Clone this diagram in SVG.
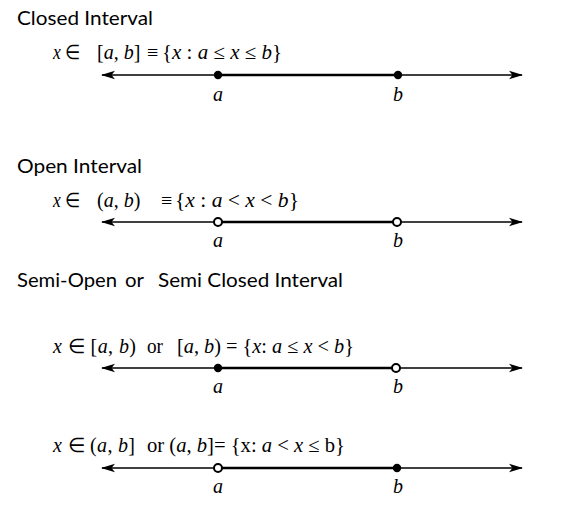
<svg xmlns="http://www.w3.org/2000/svg" width="584" height="529" viewBox="0 0 584 529">
<style>
.title{font-family:Lato,"Liberation Sans",sans-serif;font-size:19px;fill:#000}
.m{font-family:"Liberation Serif",serif;font-size:20px;fill:#000}
.i{font-style:italic}
.lbl{font-family:"Liberation Serif",serif;font-size:20px;font-style:italic;text-anchor:middle;fill:#000}
.axis{stroke:#000;stroke-width:1.3;fill:none;marker-start:url(#arr);marker-end:url(#arr)}
.seg{stroke:#000;stroke-width:2.3;fill:none}
.closed{fill:#000}
.open{fill:#fff;stroke:#000;stroke-width:2}
</style>
<defs>
<marker id="arr" viewBox="0 0 14 10" refX="13" refY="5" markerWidth="14" markerHeight="10" markerUnits="userSpaceOnUse" orient="auto-start-reverse">
<path d="M0,0.8 L14,5 L0,9.2 L3.5,5 Z" fill="#000"/>
</marker>
</defs>
<rect width="584" height="529" fill="#fff"/>

<g id="closed">
<text class="title" x="17" y="25" textLength="136" lengthAdjust="spacingAndGlyphs">Closed Interval</text>
<text class="m" x="53" y="59" textLength="27" lengthAdjust="spacingAndGlyphs"><tspan class="i">x</tspan> ∈</text>
<text class="m" x="97" y="59">[<tspan class="i">a</tspan>, <tspan class="i">b</tspan>]</text>
<text class="m" x="147" y="59">≡</text>
<text class="m" x="162" y="59" textLength="120" lengthAdjust="spacingAndGlyphs">{<tspan class="i">x</tspan> : <tspan class="i">a</tspan> ≤ <tspan class="i">x</tspan> ≤ <tspan class="i">b</tspan>}</text>
</g>

<g id="open">
<text class="title" x="17" y="173" textLength="125" lengthAdjust="spacingAndGlyphs">Open Interval</text>
<text class="m" x="53" y="207" textLength="27" lengthAdjust="spacingAndGlyphs"><tspan class="i">x</tspan> ∈</text>
<text class="m" x="97" y="207">(<tspan class="i">a</tspan>, <tspan class="i">b</tspan>)</text>
<text class="m" x="161" y="207">≡</text>
<text class="m" x="175" y="207" textLength="124" lengthAdjust="spacingAndGlyphs">{<tspan class="i">x</tspan> : <tspan class="i">a</tspan> &lt; <tspan class="i">x</tspan> &lt; <tspan class="i">b</tspan>}</text>
</g>

<g id="semi">
<text class="title" x="17" y="287" textLength="100" lengthAdjust="spacingAndGlyphs">Semi-Open</text>
<text class="title" x="125" y="287" textLength="19" lengthAdjust="spacingAndGlyphs">or</text>
<text class="title" x="158" y="287" textLength="185" lengthAdjust="spacingAndGlyphs">Semi Closed Interval</text>
<text class="m" x="53" y="353" textLength="83" lengthAdjust="spacing"><tspan class="i">x</tspan> ∈ [<tspan class="i">a</tspan>, <tspan class="i">b</tspan>)</text>
<text class="m" x="147" y="353" textLength="16" lengthAdjust="spacingAndGlyphs">or</text>
<text class="m" x="177" y="353" textLength="177" lengthAdjust="spacingAndGlyphs">[<tspan class="i">a</tspan>, <tspan class="i">b</tspan>) = {<tspan class="i">x</tspan>: <tspan class="i">a</tspan> ≤ <tspan class="i">x</tspan> &lt; <tspan class="i">b</tspan>}</text>
<text class="m" x="53" y="452" textLength="82" lengthAdjust="spacing"><tspan class="i">x</tspan> ∈ (<tspan class="i">a</tspan>, <tspan class="i">b</tspan>]</text>
<text class="m" x="147" y="452" textLength="198" lengthAdjust="spacingAndGlyphs">or (<tspan class="i">a</tspan>, <tspan class="i">b</tspan>]= {x: <tspan class="i">a</tspan> &lt; <tspan class="i">x</tspan> ≤ b}</text>
</g>

<g id="connectors">
<line class="axis" x1="102" y1="75" x2="522" y2="75"/>
<line class="seg" x1="218" y1="75" x2="398" y2="75"/>
<line class="axis" x1="102" y1="222" x2="522" y2="222"/>
<line class="seg" x1="218" y1="222" x2="397" y2="222"/>
<line class="axis" x1="102" y1="368" x2="522" y2="368"/>
<line class="seg" x1="218" y1="368" x2="396" y2="368"/>
<line class="axis" x1="102" y1="468" x2="522" y2="468"/>
<line class="seg" x1="218" y1="468" x2="397" y2="468"/>
</g>

<g id="points">
<circle class="closed" cx="218" cy="75" r="4.2"/>
<circle class="closed" cx="398" cy="75" r="4.2"/>
<circle class="open" cx="218" cy="222" r="4"/>
<circle class="open" cx="397" cy="222" r="4"/>
<circle class="closed" cx="218" cy="368" r="4.2"/>
<circle class="open" cx="396" cy="368" r="4"/>
<circle class="open" cx="218" cy="468" r="4"/>
<circle class="closed" cx="397" cy="468" r="4.2"/>
</g>

<g id="labels">
<text class="lbl" x="218" y="101">a</text>
<text class="lbl" x="398" y="101">b</text>
<text class="lbl" x="218" y="247">a</text>
<text class="lbl" x="398" y="247">b</text>
<text class="lbl" x="218" y="393">a</text>
<text class="lbl" x="398" y="393">b</text>
<text class="lbl" x="218" y="493">a</text>
<text class="lbl" x="398" y="493">b</text>
</g>
</svg>
